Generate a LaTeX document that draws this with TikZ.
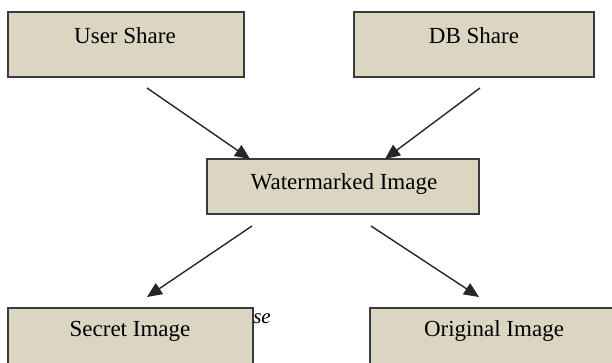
\documentclass[tikz,border=0pt]{standalone}
\usepackage{fontspec}
\setmainfont{Liberation Serif}
\usetikzlibrary{arrows.meta}
\definecolor{boxfill}{HTML}{DAD6C1}
\definecolor{boxline}{HTML}{3A3A3A}
\begin{document}
\begin{tikzpicture}[x=1pt,y=-1pt,
  box/.style={draw=boxline,fill=boxfill,line width=1.4pt},
  lbl/.style={inner sep=0pt,font=\fontsize{23}{27}\selectfont},
  arr/.style={draw=black!85,line width=1.4pt,-{Triangle[length=15pt,width=13pt]}}]
\useasboundingbox (0,0) rectangle (612,363);
\clip (0,0) rectangle (612,363);
% boxes
\draw[box] (8,12) rectangle (244,77);
\draw[box] (354,12) rectangle (594,77);
\draw[box] (207,159) rectangle (479,214);
\draw[box] (8,308) rectangle (253,380);
\draw[box] (370,308) rectangle (630,380);
% labels
\node[lbl] (user) at (125,36) {User Share};
\node[lbl] (db) at (474,36) {DB Share};
\node[lbl] (wm) at (344,184) {Watermarked Image};
\node[lbl] (secret) at (130,331) {Secret Image};
\node[lbl] (orig) at (494,331) {Original Image};
\node[inner sep=0pt,font=\fontsize{21}{25}\selectfont\itshape] (se) at (262,319) {se};
% arrow endpoints
\coordinate (u1) at (147,88);
\coordinate (w1) at (250,159);
\coordinate (d1) at (480,88);
\coordinate (w2) at (385,159);
\coordinate (w3) at (252,226);
\coordinate (s1) at (147,297);
\coordinate (w4) at (371,226);
\coordinate (o1) at (479,297);
\draw[arr] (u1) -- (w1);
\draw[arr] (d1) -- (w2);
\draw[arr] (w3) -- (s1);
\draw[arr] (w4) -- (o1);
\end{tikzpicture}
\end{document}
